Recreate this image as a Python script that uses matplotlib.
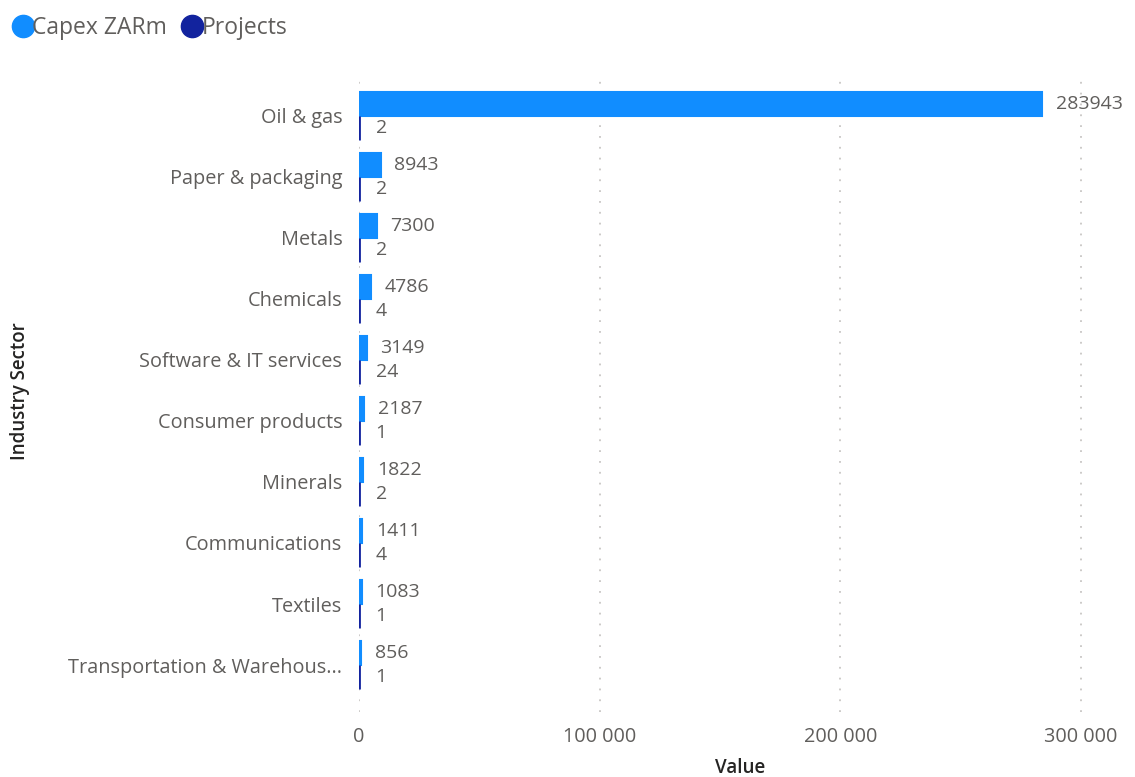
import matplotlib.pyplot as plt
from matplotlib.lines import Line2D
from matplotlib.ticker import FuncFormatter
import numpy as np

plt.rcParams['font.family'] = ['Open Sans', 'DejaVu Sans']

sectors = ['Oil & gas', 'Paper & packaging', 'Metals', 'Chemicals',
           'Software & IT services', 'Consumer products', 'Minerals',
           'Communications', 'Textiles', 'Transportation & Warehous...']
capex = [283943, 8943, 7300, 4786, 3149, 2187, 1822, 1411, 1083, 856]
projects = [2, 2, 2, 4, 24, 1, 2, 4, 1, 1]

capex_color = '#118DFF'
projects_color = '#12239E'
text_color = '#605E5C'
title_color = '#252423'

fig = plt.figure(figsize=(11.35, 7.77), dpi=100)
ax = fig.add_axes([359 / 1135, 65 / 777, (1122 - 359) / 1135, (702 - 65) / 777])

y = np.arange(len(sectors))
h = 0.39
ax.barh(y - h / 2, capex, height=h, color=capex_color,
        edgecolor=capex_color, linewidth=1.5)
ax.barh(y + h / 2, projects, height=h, color=projects_color,
        edgecolor=projects_color, linewidth=2.0)

for i, (c, p) in enumerate(zip(capex, projects)):
    ax.annotate(str(c), (c, i - h / 2), xytext=(10, 0), textcoords='offset points',
                va='center', ha='left', fontsize=14, color=text_color)
    ax.annotate(str(p), (p, i + h / 2), xytext=(12, 0), textcoords='offset points',
                va='center', ha='left', fontsize=14, color=text_color)

ax.set_xlim(0, 317000)
ax.set_ylim(9.77, -0.67)
ax.set_yticks(y)
ax.set_yticklabels(sectors, fontsize=14.3, color=text_color)
ax.set_xticks([0, 100000, 200000, 300000])
ax.xaxis.set_major_formatter(FuncFormatter(lambda v, _: f'{int(v):,}'.replace(',', ' ')))
ax.tick_params(axis='x', labelsize=14.3, labelcolor=text_color, length=0, pad=11)
ax.tick_params(axis='y', length=0, pad=12)

ax.grid(axis='x', color='#C8C6C4', linestyle=(0, (1, 5)), linewidth=1.3)
ax.set_axisbelow(True)
for s in ax.spines.values():
    s.set_visible(False)

ax.set_xlabel('Value', fontsize=13.5, color=title_color, fontweight='semibold', labelpad=8)
fig.text(20 / 1135, 1 - 391 / 777, 'Industry Sector', rotation=90, fontsize=13.5,
         color=title_color, fontweight='semibold', ha='center', va='center')

handles = [Line2D([], [], marker='o', linestyle='', markersize=16, color=capex_color),
           Line2D([], [], marker='o', linestyle='', markersize=16, color=projects_color)]
fig.legend(handles, ['Capex ZARm', 'Projects'], loc='upper left',
           bbox_to_anchor=(-0.018, 1.006), ncol=2, frameon=False, fontsize=16.5,
           labelcolor=text_color, handletextpad=-0.6, columnspacing=0.1,
           borderpad=0.4)

fig.savefig('out.png', dpi=100)
